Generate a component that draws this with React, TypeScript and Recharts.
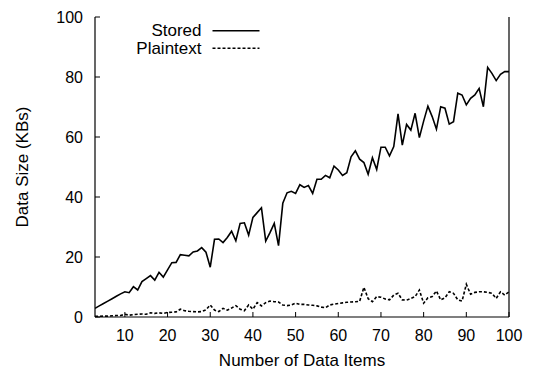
import React from 'react';
import { LineChart, Line, XAxis, YAxis, Legend, Label } from 'recharts';

const items: number[] = Array.from({ length: 98 }, (_, i) => i + 3);

const stored: number[] = [
  2.9, 3.7, 4.5, 5.3, 6.1, 6.9, 7.7, 8.4, 8.1, 10.1,
  9.0, 11.8, 12.8, 13.8, 12.3, 14.9, 13.3, 15.7, 18.1, 18.2,
  20.8, 20.6, 20.4, 21.7, 22.0, 23.1, 21.6, 16.6, 25.9, 26.0,
  24.8, 26.5, 28.6, 25.4, 31.2, 31.4, 27.3, 33.2, 34.8, 36.4,
  25.3, 28.1, 31.2, 23.8, 37.9, 41.4, 41.9, 41.2, 44.1, 43.2,
  43.8, 41.2, 45.9, 45.9, 47.2, 46.4, 50.3, 49.0, 47.2, 48.1,
  53.4, 55.4, 52.6, 51.5, 47.6, 53.1, 49.2, 56.6, 56.6, 53.7,
  56.8, 67.7, 57.3, 64.2, 62.3, 67.9, 59.8, 65.3, 70.3, 66.8,
  62.6, 70.1, 69.6, 64.3, 65.1, 74.6, 74.0, 70.7, 72.9, 74.0,
  76.2, 70.1, 83.2, 81.2, 78.8, 80.9, 81.8, 81.8,
];

const plaintext: number[] = [
  0.2, 0.2, 0.3, 0.3, 0.4, 0.5, 0.5, 0.9, 0.6, 0.8,
  0.9, 1.0, 0.9, 1.4, 1.2, 1.4, 1.2, 1.5, 1.6, 1.7,
  2.6, 2.1, 1.9, 1.8, 1.7, 1.8, 2.4, 4.0, 2.3, 1.8,
  2.9, 2.3, 3.0, 3.8, 2.6, 2.1, 4.0, 2.6, 4.8, 3.7,
  4.8, 5.3, 5.1, 5.0, 4.0, 3.8, 4.0, 4.6, 4.2, 4.2,
  4.0, 3.9, 3.7, 3.3, 3.1, 4.0, 4.3, 4.5, 4.7, 4.9,
  5.0, 5.1, 5.2, 9.9, 6.1, 5.1, 6.8, 6.6, 6.0, 5.7,
  7.3, 7.9, 5.7, 5.6, 6.2, 6.8, 9.0, 4.6, 6.4, 6.8,
  8.7, 5.7, 6.4, 8.4, 7.9, 5.7, 5.3, 10.9, 7.6, 8.2,
  8.4, 8.4, 8.2, 7.9, 6.2, 8.4, 7.3, 8.4,
];

const xTicks: number[] = [10, 20, 30, 40, 50, 60, 70, 80, 90, 100];
const yTicks: number[] = [0, 20, 40, 60, 80, 100];

const seriesOrder: string[] = ['stored', 'plaintext'];

const data = items.map((n, i) => ({ n, stored: stored[i], plaintext: plaintext[i] }));

const FONT = '"Liberation Sans", Arial, Helvetica, sans-serif';
const tickStyle = { fontSize: 16, fill: '#000', fontFamily: FONT };

const dashes: Record<string, string | undefined> = { stored: undefined, plaintext: '3 2' };

const renderLegend = (props: any) => {
  const payload = [...(props.payload || [])].sort(
    (a: any, b: any) => seriesOrder.indexOf(a.dataKey) - seriesOrder.indexOf(b.dataKey)
  );
  return (
    <svg width={300} height={60} style={{ display: 'block' }}>
      {payload.map((entry: any, i: number) => {
        const cy = 30.7 + i * 17.6;
        const key = entry.dataKey as string;
        return (
          <g key={key}>
            <text
              x={201.5}
              y={cy}
              textAnchor="end"
              dominantBaseline="central"
              fontSize={17}
              fontFamily={FONT}
              fill="#000"
            >
              {entry.value}
            </text>
            <line
              x1={212.5}
              x2={259.5}
              y1={cy}
              y2={cy}
              stroke="#000"
              strokeWidth={1.5}
              strokeDasharray={dashes[key]}
            />
          </g>
        );
      })}
    </svg>
  );
};

export default function App() {
  return (
    <div
      style={{
        position: 'absolute',
        top: 0,
        left: 0,
        width: 537,
        height: 370,
        background: '#fff',
        overflow: 'hidden',
      }}
    >
      <LineChart
        width={537}
        height={370}
        data={data}
        margin={{ top: 17, right: 0, bottom: 0, left: 0 }}
      >
        <XAxis
          dataKey="n"
          type="number"
          domain={[3, 100]}
          ticks={xTicks}
          allowDataOverflow
          height={53}
          tickSize={-5}
          tickMargin={18}
          axisLine={{ stroke: '#000', strokeWidth: 1.2 }}
          tickLine={{ stroke: '#000', strokeWidth: 1 }}
          tick={tickStyle}
        >
          <Label
            value="Number of Data Items"
            position="insideBottom"
            dy={1}
            style={{ fontSize: 17, fill: '#000', fontFamily: FONT }}
          />
        </XAxis>
        <XAxis
          xAxisId="top"
          dataKey="n"
          type="number"
          orientation="top"
          domain={[3, 100]}
          ticks={xTicks}
          allowDataOverflow
          height={0}
          tickSize={-5}
          tick={false}
          axisLine={{ stroke: '#000', strokeWidth: 1.2 }}
          tickLine={{ stroke: '#000', strokeWidth: 1 }}
        />
        <YAxis
          type="number"
          domain={[0, 100]}
          ticks={yTicks}
          allowDataOverflow
          width={95}
          tickSize={-5}
          tickMargin={17}
          axisLine={{ stroke: '#000', strokeWidth: 1.2 }}
          tickLine={{ stroke: '#000', strokeWidth: 1 }}
          tick={tickStyle}
        >
          <Label
            value="Data Size (KBs)"
            angle={-90}
            position="insideLeft"
            dx={17}
            style={{ fontSize: 17, fill: '#000', fontFamily: FONT, textAnchor: 'middle' }}
          />
        </YAxis>
        <YAxis
          yAxisId="right"
          type="number"
          orientation="right"
          domain={[0, 100]}
          ticks={yTicks}
          allowDataOverflow
          width={28}
          tickSize={-5}
          tick={false}
          axisLine={{ stroke: '#000', strokeWidth: 1.2 }}
          tickLine={{ stroke: '#000', strokeWidth: 1 }}
        />
        <Legend
          layout="vertical"
          align="center"
          verticalAlign="middle"
          wrapperStyle={{ top: 0, left: 0, width: 300, height: 60 }}
          content={renderLegend}
        />
        <Line
          dataKey="stored"
          name="Stored"
          stroke="#000"
          strokeWidth={1.6}
          dot={false}
          isAnimationActive={false}
        />
        <Line
          dataKey="plaintext"
          name="Plaintext"
          stroke="#000"
          strokeWidth={1.6}
          strokeDasharray="3 2"
          dot={false}
          isAnimationActive={false}
        />
      </LineChart>
    </div>
  );
}
